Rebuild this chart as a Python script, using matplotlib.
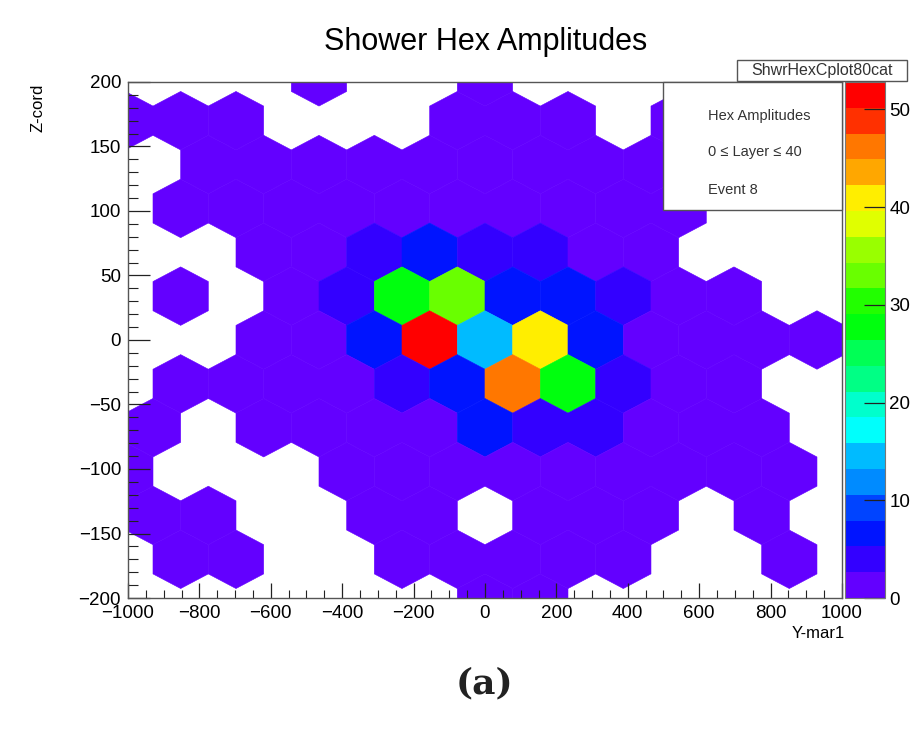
import colorsys

import numpy as np
import matplotlib
matplotlib.use("Agg")
import matplotlib.pyplot as plt
from matplotlib.collections import PolyCollection
from matplotlib.colors import ListedColormap, Normalize
from matplotlib.patches import Rectangle
from matplotlib.ticker import MultipleLocator

plt.rcParams["font.family"] = ["Liberation Sans", "DejaVu Sans"]

# honeycomb layout: row centre (Z), x of first cell in the row, cell pitch
row_z = [204, 170, 136, 102, 68, 34, 0, -34, -68, -102, -136, -170, -204]
row_x0 = [-930, -1007.5, -930, -1007.5, -930, -1007.5, -930,
          -1007.5, -930, -1007.5, -930, -1007.5, -930]
HEX_W = 155.0      # flat-to-flat width (Y units)
HEX_A = 22.67      # centre-to-vertex height (Z units)

# amplitude per cell, 0 = no hit (cell not drawn)
amp_r6 = [0, 0, 0, 1.2, 0, 0, 1.2, 0, 0, 0, 0, 0, 0]
amp_r5 = [1.2, 1.2, 1.2, 0, 0, 0, 1.2, 1.2, 1.2, 0, 1.2, 0, 0, 0]
amp_r4 = [0, 1.2, 1.2, 1.2, 1.2, 1.2, 1.2, 1.2, 1.2, 1.2, 0, 0, 0]
amp_r3 = [0, 1.2, 1.2, 1.2, 1.2, 1.2, 1.2, 1.2, 1.2, 1.2, 1.2, 0, 0, 0]
amp_r2 = [0, 0, 1.2, 1.2, 4.0, 6.5, 4.0, 4.0, 1.2, 1.2, 0, 0, 0]
amp_r1 = [0, 1.2, 0, 1.2, 4.0, 27.0, 33.0, 6.5, 6.5, 4.0, 1.2, 1.2, 0, 0]
amp_r0 = [0, 0, 1.2, 1.2, 6.5, 52.8, 14.5, 41.0, 6.5, 1.2, 1.2, 1.2, 1.2]
amp_m1 = [0, 1.2, 1.2, 1.2, 1.2, 4.0, 6.5, 46.0, 28.0, 4.0, 1.2, 1.2, 0, 0]
amp_m2 = [1.2, 0, 1.2, 1.2, 1.2, 1.2, 6.5, 4.0, 4.0, 1.2, 1.2, 1.2, 0]
amp_m3 = [1.2, 0, 0, 0, 1.2, 1.2, 1.2, 1.2, 1.2, 1.2, 1.2, 1.2, 1.2, 0]
amp_m4 = [1.2, 1.2, 0, 0, 1.2, 1.2, 0, 1.2, 1.2, 1.2, 0, 1.2, 0]
amp_m5 = [0, 1.2, 1.2, 0, 0, 1.2, 1.2, 1.2, 1.2, 1.2, 0, 0, 1.2, 0]
amp_m6 = [0, 0, 0, 0, 0, 0, 1.2, 1.2, 0, 0, 0, 0, 0]
amplitudes = [amp_r6, amp_r5, amp_r4, amp_r3, amp_r2, amp_r1, amp_r0,
              amp_m1, amp_m2, amp_m3, amp_m4, amp_m5, amp_m6]

cbar_ticks = [0, 10, 20, 30, 40, 50]
x_ticks = list(range(-1000, 1001, 200))
y_ticks = list(range(-200, 201, 50))

# ROOT "pretty" palette (HLS violet -> red), 20 contour levels
N_LEVELS = 20
palette = []
for j in range(N_LEVELS):
    i = int((j + 0.99) * 50 / N_LEVELS)
    hue = 280 - (i + 1) * 5.6
    palette.append(colorsys.hls_to_rgb(hue / 360.0, 0.5, 1.0))
cmap = ListedColormap(palette)


def hexagon(cx, cz):
    h = HEX_W / 2
    return [(cx + h, cz - HEX_A / 2), (cx + h, cz + HEX_A / 2), (cx, cz + HEX_A),
            (cx - h, cz + HEX_A / 2), (cx - h, cz - HEX_A / 2), (cx, cz - HEX_A)]


verts, vals = [], []
for z, x0, amps in zip(row_z, row_x0, amplitudes):
    for k, a in enumerate(amps):
        if a > 0:
            verts.append(hexagon(x0 + k * HEX_W, z))
            vals.append(a)
vals = np.array(vals)
norm = Normalize(0, vals.max())

fig = plt.figure(figsize=(9.13, 7.38), dpi=100)
ax = fig.add_axes([0.1402, 0.1897, 0.7820, 0.6992])
pc = PolyCollection(verts, array=vals, cmap=cmap, norm=norm,
                    edgecolors="face", linewidths=0.4)
ax.add_collection(pc)
ax.set_xlim(-1000, 1000)
ax.set_ylim(-200, 200)

ax.set_xticks(x_ticks)
ax.set_yticks(y_ticks)
ax.xaxis.set_minor_locator(MultipleLocator(50))
ax.yaxis.set_minor_locator(MultipleLocator(10))
ax.tick_params(which="both", direction="in", top=False, right=False,
               labelsize=13.5, color="#222222", pad=5)
ax.tick_params(axis="x", which="major", length=11, width=0.9)
ax.tick_params(axis="x", which="minor", length=5.5, width=0.8)
ax.tick_params(axis="y", which="major", length=15.5, width=0.9)
ax.tick_params(axis="y", which="minor", length=7.5, width=0.8)
for sp in ax.spines.values():
    sp.set_color("#555555")
    sp.set_linewidth(1.0)

cax = fig.add_axes([0.9255, 0.1897, 0.0438, 0.6992])
cb = fig.colorbar(plt.cm.ScalarMappable(norm=norm, cmap=cmap), cax=cax)
cb.set_ticks(cbar_ticks)
cb.outline.set_edgecolor("#777777")
cax.tick_params(direction="in", length=15, width=0.9, labelsize=13.5,
                color="#222222", pad=3)

fig.text(0.532, 0.943, "Shower Hex Amplitudes", ha="center", va="center",
         fontsize=22)
fig.text(0.042, 0.887, "Z-cord", rotation=90, ha="center", va="top",
         fontsize=12)
fig.text(0.925, 0.141, "Y-mar1", ha="right", va="center", fontsize=12)

# legend box over the top right of the frame
fig.add_artist(Rectangle((0.7262, 0.7154), 0.196, 0.1735,
                         transform=fig.transFigure, facecolor="white",
                         edgecolor="#555555", linewidth=1.0))
fig.text(0.7755, 0.8428, "Hex Amplitudes", fontsize=10.5, color="#333333",
         va="center")
fig.text(0.7755, 0.794, "0 \u2264 Layer \u2264 40", fontsize=10.5,
         color="#333333", va="center")
fig.text(0.7755, 0.7425, "Event 8", fontsize=10.5, color="#333333",
         va="center")

# histogram name box
fig.add_artist(Rectangle((0.8072, 0.8902), 0.1862, 0.0285,
                         transform=fig.transFigure, facecolor="white",
                         edgecolor="#555555", linewidth=1.0))
fig.text(0.9003, 0.9045, "ShwrHexCplot80cat", fontsize=11.5, color="#333333",
         ha="center", va="center")

fig.text(0.531, 0.0745, "(a)", ha="center", va="center", fontsize=26,
         family=["DejaVu Serif"], weight="bold", color="#222222")

fig.savefig("out.png", dpi=100)
